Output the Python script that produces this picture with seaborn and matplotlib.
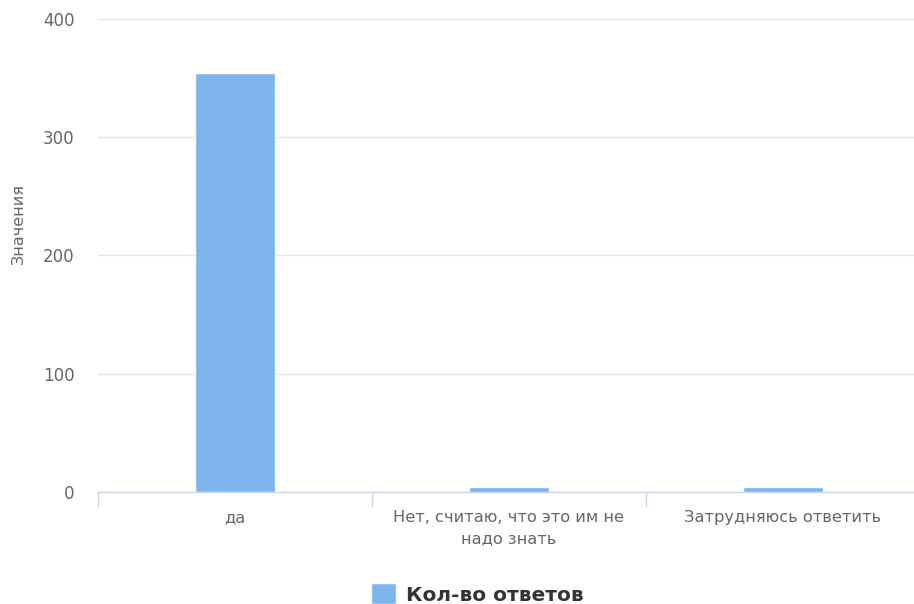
import numpy as np
import matplotlib.pyplot as plt
import seaborn as sns

sns.set_theme(style="white")
plt.rcParams["font.family"] = ["DejaVu Sans"]

# data
categories = ["да", "Нет, считаю, что это им не\nнадо знать", "Затрудняюсь ответить"]
answers = [354, 4, 4]
series_name = "Кол-во ответов"

BAR = "#7cb5ec"
AXIS = "#ccd6eb"
GRID = "#e6e6e6"
LABEL = "#666666"

fig = plt.figure(figsize=(9.14, 6.04), dpi=100)
ax = fig.add_axes([98 / 914, 112 / 604, 822 / 914, 473 / 604])

sns.barplot(x=categories, y=answers, color=BAR, width=0.29, saturation=1,
            label=series_name, ax=ax, zorder=3)

ax.set_ylim(0, 400)
ax.set_xlim(-0.5, 2.5)
ax.set_yticks([0, 100, 200, 300, 400])
ax.yaxis.grid(True, color=GRID, linewidth=1)
ax.set_axisbelow(True)

for s in ["top", "right", "left"]:
    ax.spines[s].set_visible(False)
ax.spines["bottom"].set_color(AXIS)
ax.spines["bottom"].set_linewidth(1)

ax.tick_params(axis="y", left=False, length=0, pad=17, labelsize=12, labelcolor=LABEL)
ax.tick_params(axis="x", which="major", bottom=False, length=0, pad=13,
               labelsize=11.7, labelcolor=LABEL)
for t in ax.get_xticklabels():
    t.set_linespacing(1.55)
ax.set_xticks([-0.5, 0.5, 1.5, 2.5], minor=True)
ax.tick_params(axis="x", which="minor", bottom=True, direction="out",
               length=11, width=1, color=AXIS)

ax.set_xlabel("")
ax.set_ylabel("Значения", fontsize=11.5, color=LABEL)
ax.yaxis.label.set_va("center")
ax.yaxis.set_label_coords(-80 / 822, 0.567)

handles, labels = ax.get_legend_handles_labels()
leg = ax.get_legend()
if leg is not None:
    leg.remove()
fig.legend(handles[:1], labels[:1], loc="center", bbox_to_anchor=(477 / 914, 10 / 604),
           frameon=False, handlelength=1.25, handleheight=1.2, handletextpad=0.5,
           prop={"weight": "bold", "size": 14.5})
for t in fig.legends[0].get_texts():
    t.set_color("#333333")

fig.savefig("out.png", dpi=100)
